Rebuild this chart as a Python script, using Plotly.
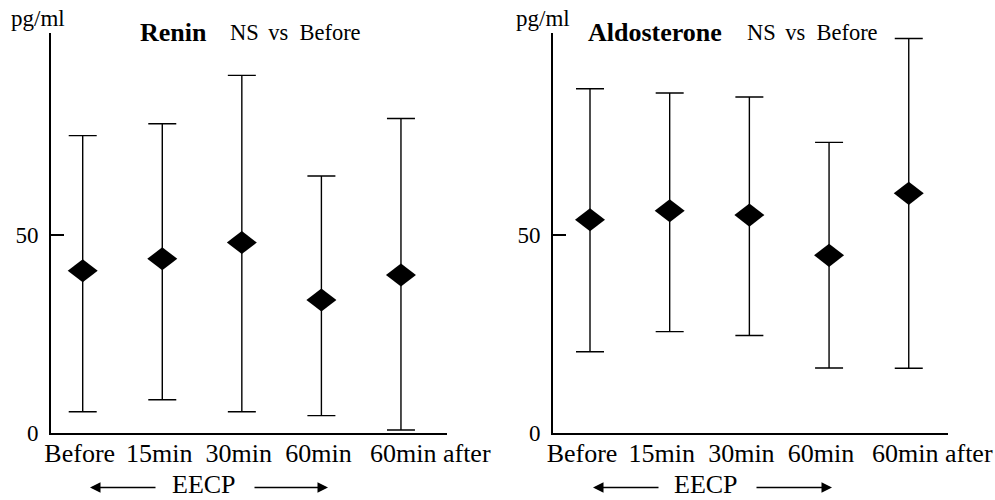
import plotly.graph_objects as go

# ---- data ----
categories = ["Before", "15min", "30min", "60min", "60min after"]

renin_mean = [40.9, 43.9, 48.0, 33.5, 39.8]
renin_upper = [75.0, 78.0, 90.2, 64.8, 79.3]
renin_lower = [5.3, 8.3, 5.3, 4.3, 0.7]

aldo_mean = [53.9, 56.2, 55.1, 44.9, 60.6]
aldo_upper = [87.1, 86.0, 85.0, 73.5, 99.8]
aldo_lower = [20.5, 25.6, 24.6, 16.4, 16.3]

y_tickvals = [0, 50]
y_ticktext = ["0", "50"]

panel_titles = ["Renin", "Aldosterone"]
subtitle = "NS\u00a0\u2006vs\u00a0\u00a0Before"
unit_label = "pg/ml"
period_label = "EECP"

FONT = "Liberation Serif"

fig = go.Figure()

# filled rhombus marker = two half-triangles (pointing left / right) + a small diamond core
TRI = 20  # triangle marker size (r = 10)
MARKER_PARTS = [
    dict(symbol="triangle-down", size=TRI, angle=90, standoff=TRI / 4),
    dict(symbol="triangle-down", size=TRI, angle=-90, standoff=TRI / 4),
    dict(symbol="diamond", size=15),
]


def add_panel(mean, upper, lower, xa, ya):
    plus = [u - m for u, m in zip(upper, mean)]
    minus = [m - l for m, l in zip(mean, lower)]
    fig.add_trace(go.Scatter(
        x=categories, y=mean, mode="lines", xaxis=xa, yaxis=ya,
        line=dict(width=0, color="rgba(0,0,0,0)"),
        error_y=dict(type="data", array=plus, arrayminus=minus, symmetric=False,
                     color="black", thickness=1.4, width=14),
        hoverinfo="skip",
    ))
    for part in MARKER_PARTS:
        fig.add_trace(go.Scatter(
            x=categories, y=mean, mode="markers", xaxis=xa, yaxis=ya,
            marker=dict(part, color="black", line=dict(width=0)),
            hoverinfo="x+y",
        ))


add_panel(renin_mean, renin_upper, renin_lower, "x", "y")
add_panel(aldo_mean, aldo_upper, aldo_lower, "x2", "y2")

common_x = dict(
    type="category", showline=True, linecolor="black", linewidth=2,
    ticks="", showgrid=False, zeroline=False, automargin=False,
    tickvals=categories[:4], ticktext=categories[:4],
    tickfont=dict(family=FONT, size=26, color="black"),
    ticklabelstandoff=-4,
)
common_y = dict(
    showline=True, linecolor="black", linewidth=2, showgrid=False, zeroline=False,
    automargin=False,
    ticks="inside", ticklen=13, tickwidth=1.5, tickcolor="black",
    tickvals=y_tickvals, ticktext=y_ticktext,
    tickfont=dict(family=FONT, size=23, color="black"),
    ticklabelstandoff=6,
)

fig.update_layout(
    width=995, height=500, margin=dict(l=0, r=0, t=0, b=0, autoexpand=False),
    paper_bgcolor="white", plot_bgcolor="white", showlegend=False,
    xaxis=dict(common_x, domain=[0.0513, 0.4492], range=[-0.398, 4.578], anchor="y",
               ticklabelshift=-3),
    yaxis=dict(common_y, domain=[0.1346, 0.934], range=[0, 100.9], anchor="x"),
    xaxis2=dict(common_x, domain=[0.5558, 0.9528], range=[-0.464, 4.493], anchor="y2",
                ticklabelshift=-8),
    yaxis2=dict(common_y, domain=[0.1346, 0.934], range=[0, 101.2], anchor="x2"),
)

ann = []
tf = dict(family=FONT, color="black")

# last category label (offset like the original)
for xr, shift in (("x", -33), ("x2", -39)):
    ann.append(dict(text=categories[4], x=categories[4], xref=xr, y=0.093, yref="paper",
                    xanchor="left", yanchor="middle", xshift=shift, showarrow=False,
                    font=dict(tf, size=26)))

# titles
for title, tx, sx in ((panel_titles[0], 0.1387, 0.2291), (panel_titles[1], 0.5889, 0.7487)):
    ann.append(dict(text="<b>" + title + "</b>", x=tx, xref="paper", y=0.935, yref="paper",
                    xanchor="left", yanchor="middle", showarrow=False,
                    font=dict(tf, size=26)))
    ann.append(dict(text=subtitle, x=sx, xref="paper", y=0.935, yref="paper",
                    xanchor="left", yanchor="middle", showarrow=False,
                    font=dict(tf, size=22.5)))

# unit labels
for ux in (0.0377, 0.5462):
    ann.append(dict(text=unit_label, x=ux, xref="paper", y=0.964, yref="paper",
                    xanchor="center", yanchor="middle", showarrow=False,
                    font=dict(tf, size=23)))

# EECP with arrows
for cx, lh, lt, rh, rt in ((0.2055, 90, 157, 328, 253), (0.7095, 593, 660, 832, 755)):
    ann.append(dict(text=period_label, x=cx, xref="paper", y=0.031, yref="paper",
                    xanchor="center", yanchor="middle", showarrow=False,
                    font=dict(tf, size=26)))
    ann.append(dict(text="", x=lh / 995, xref="paper", y=0.025, yref="paper",
                    ax=lt - lh, ay=0, axref="pixel", ayref="pixel",
                    showarrow=True, arrowhead=2, arrowsize=1.4, arrowwidth=1.5,
                    arrowcolor="black", standoff=0, startstandoff=0))
    ann.append(dict(text="", x=rh / 995, xref="paper", y=0.025, yref="paper",
                    ax=rt - rh, ay=0, axref="pixel", ayref="pixel",
                    showarrow=True, arrowhead=2, arrowsize=1.4, arrowwidth=1.5,
                    arrowcolor="black", standoff=0, startstandoff=0))

fig.update_layout(annotations=ann)

fig.write_html("out.html")
